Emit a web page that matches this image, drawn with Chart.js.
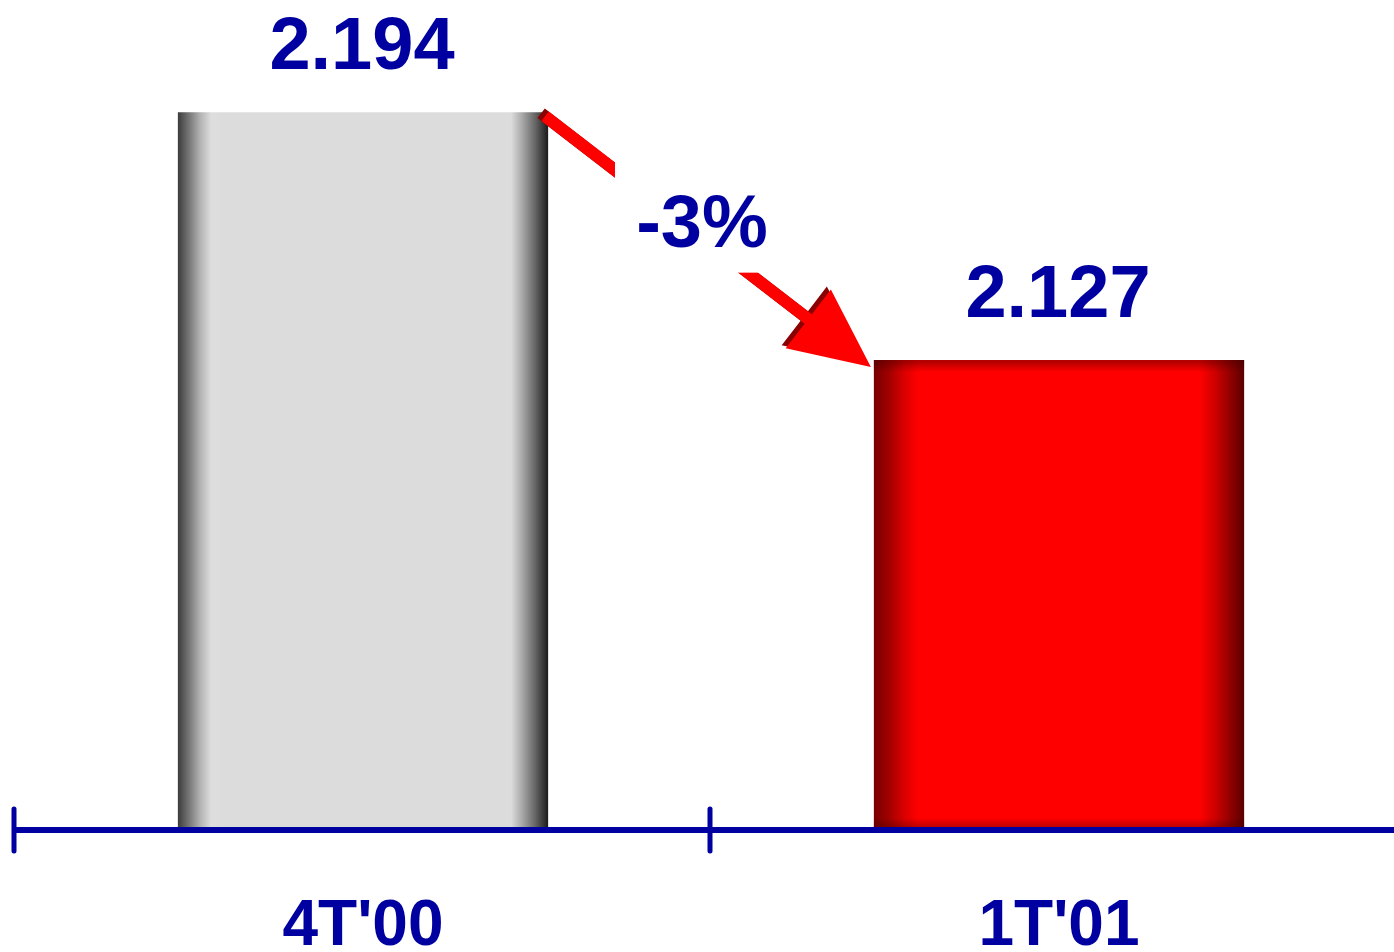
<!DOCTYPE html>
<html>
<head>
<meta charset="utf-8">
<title>4T'00 - 1T'01</title>
<script src="https://cdn.jsdelivr.net/npm/chart.js@4/dist/chart.umd.min.js"></script>
<style>
  html, body { margin: 0; padding: 0; background: #fff; overflow: hidden; }
  #wrap { position: relative; width: 1408px; height: 952px; }
</style>
</head>
<body>
<div id="wrap"><canvas id="myChart"></canvas></div>
<script>
'use strict';

// data
const categories = ["4T'00", "1T'01"];
const values = [2194, 2127];
const axisMin = 2000;
const axisMax = 2200;

const navy = '#0000A0';
const fontFamily = '"Liberation Sans", Arial, Helvetica, sans-serif';
const barPercent = 0.532;

// cylinder shading for each bar
const barStops = [
  [[0, '#3c3c3c'], [0.03, '#767676'], [0.06, '#b2b2b2'], [0.09, '#dedede'], [0.12, '#dcdcdc'],
    [0.9, '#dcdcdc'], [0.93, '#a8a8a8'], [0.965, '#666666'], [1, '#1a1a1a']],
  [[0, '#780000'], [0.04, '#a00000'], [0.08, '#d80000'], [0.12, '#ff0000'],
    [0.88, '#ff0000'], [0.92, '#d00000'], [0.96, '#950000'], [1, '#5a0000']]
];

function formatValue(v) {
  return String(v).replace(/\B(?=(\d{3})+(?!\d))/g, '.');
}

function barGradient(context) {
  const chart = context.chart;
  const stops = barStops[context.dataIndex];
  if (!chart.chartArea) {
    return stops[4][1];
  }
  const xScale = chart.scales.x;
  const cx = xScale.getPixelForValue(context.dataIndex);
  const half = xScale.width / categories.length * barPercent / 2;
  const g = chart.ctx.createLinearGradient(cx - half, 0, cx + half, 0);
  for (let s of stops) {
    g.addColorStop(s[0], s[1]);
  }
  return g;
}

function drawArrow(ctx, sx, sy, tx, ty, color) {
  const dx = tx - sx;
  const dy = ty - sy;
  const len = Math.sqrt(dx * dx + dy * dy);
  const ux = dx / len, uy = dy / len;
  const nx = -uy, ny = ux;
  const shaft = 6, head = 37, headLen = 79;
  const bx = tx - ux * headLen, by = ty - uy * headLen;
  ctx.beginPath();
  ctx.moveTo(sx + nx * shaft, sy + ny * shaft);
  ctx.lineTo(bx + nx * shaft, by + ny * shaft);
  ctx.lineTo(bx + nx * head, by + ny * head);
  ctx.lineTo(tx, ty);
  ctx.lineTo(bx - nx * head, by - ny * head);
  ctx.lineTo(bx - nx * shaft, by - ny * shaft);
  ctx.lineTo(sx - nx * shaft, sy - ny * shaft);
  ctx.closePath();
  ctx.fillStyle = color;
  ctx.fill();
}

const decorations = {
  id: 'decorations',
  afterDatasetsDraw(chart) {
    const ctx = chart.ctx;
    const xScale = chart.scales.x;
    const yScale = chart.scales.y;
    const bars = chart.getDatasetMeta(0).data;
    const base = yScale.getPixelForValue(axisMin);

    // darker top and bottom edge on the red bar
    const red = bars[1];
    const rl = red.x - red.width / 2;
    let vg = ctx.createLinearGradient(0, red.y, 0, red.y + 12);
    vg.addColorStop(0, 'rgba(60,0,0,0.45)');
    vg.addColorStop(1, 'rgba(60,0,0,0)');
    ctx.fillStyle = vg;
    ctx.fillRect(rl, red.y, red.width, 12);
    vg = ctx.createLinearGradient(0, base - 12, 0, base);
    vg.addColorStop(0, 'rgba(60,0,0,0)');
    vg.addColorStop(1, 'rgba(60,0,0,0.45)');
    ctx.fillStyle = vg;
    ctx.fillRect(rl, base - 12, red.width, 12);

    ctx.save();
    // axis line
    ctx.strokeStyle = navy;
    ctx.lineWidth = 6;
    ctx.beginPath();
    ctx.moveTo(xScale.left - 1, base);
    ctx.lineTo(chart.width, base);
    ctx.stroke();

    // tick marks between categories
    ctx.lineWidth = 5;
    ctx.lineCap = 'round';
    const step = xScale.width / categories.length;
    for (let i = 0; i <= categories.length; i++) {
      const x = xScale.left + i * step - 1;
      ctx.beginPath();
      ctx.moveTo(x, base - 21);
      ctx.lineTo(x, base + 21);
      ctx.stroke();
    }

    // category labels
    ctx.fillStyle = navy;
    ctx.textAlign = 'center';
    ctx.textBaseline = 'alphabetic';
    ctx.font = 'bold 64px ' + fontFamily;
    for (let i = 0; i < categories.length; i++) {
      ctx.fillText(categories[i], xScale.getPixelForValue(i), base + 115);
    }

    // value labels
    ctx.font = 'bold 74px ' + fontFamily;
    for (let i = 0; i < bars.length; i++) {
      ctx.fillText(formatValue(values[i]), bars[i].x - 1, bars[i].y - 43);
    }

    // arrow from the first bar to the second
    const b0 = bars[0];
    const b1 = bars[1];
    const sx = b0.x + b0.width / 2 - 3, sy = b0.y + 4;
    const tx = b1.x - b1.width / 2 - 3, ty = b1.y + 7;
    drawArrow(ctx, sx - 4, sy - 3, tx - 4, ty - 3, '#8b0000');
    drawArrow(ctx, sx, sy, tx, ty, '#ff0000');

    // percent change label with white box over the arrow
    const pct = Math.round((values[1] - values[0]) / values[0] * 100);
    const mx = (sx + tx) / 2 - 6;
    const my = (sy + ty) / 2 - 22;
    ctx.fillStyle = '#ffffff';
    ctx.fillRect(mx - 87, my - 80, 170, 133);
    ctx.fillStyle = navy;
    ctx.font = 'bold 74px ' + fontFamily;
    ctx.fillText(pct + '%', mx, my + 27);
    ctx.restore();
  }
};

const config = {
  type: 'bar',
  data: {
    labels: categories,
    datasets: [{
      data: values,
      backgroundColor: barGradient,
      borderWidth: 0,
      barPercentage: barPercent,
      categoryPercentage: 1
    }]
  },
  options: {
    responsive: true,
    maintainAspectRatio: false,
    animation: false,
    layout: {
      padding: { top: 90, bottom: 122, left: 15, right: 1 }
    },
    plugins: {
      legend: { display: false },
      tooltip: { enabled: false }
    },
    scales: {
      x: { display: false },
      y: { display: false, min: axisMin, max: axisMax }
    }
  },
  plugins: [decorations]
};

const canvas = document.getElementById('myChart');
const myChart = new Chart(canvas, config);
</script>
</body>
</html>
